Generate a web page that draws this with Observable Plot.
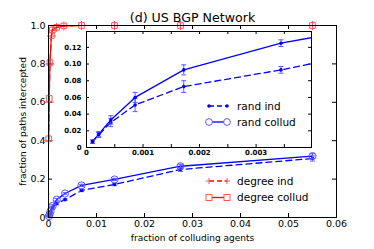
<!DOCTYPE html>
<html><head><meta charset="utf-8">
<script src="https://cdn.jsdelivr.net/npm/d3@7"></script>
<script src="https://cdn.jsdelivr.net/npm/@observablehq/plot@0.6"></script>
<style>
body{margin:0;background:#fff;}
#wrap{position:relative;width:374px;height:249px;overflow:hidden;}
#wrap svg{position:absolute;}
</style></head><body><div id="wrap"></div>
<script>
// ---- data ----
const randX = [0.000107, 0.000215, 0.00043, 0.00086, 0.00172, 0.00344, 0.00688, 0.01375, 0.0275, 0.055];
const randInd = [0.007, 0.015, 0.030, 0.051, 0.073, 0.093, 0.141, 0.172, 0.250, 0.307];
const randIndErr = [0.002, 0.003, 0.005, 0.008, 0.007, 0.004, 0.006, 0.006, 0.010, 0.013];
const randCollud = [0.007, 0.016, 0.033, 0.060, 0.093, 0.125, 0.167, 0.198, 0.267, 0.320];
const randColludErr = [0.002, 0.003, 0.005, 0.006, 0.006, 0.004, 0.006, 0.006, 0.010, 0.012];
const degX = [0.00005, 0.00015, 0.0003, 0.0006, 0.0008, 0.0017, 0.0032, 0.00688, 0.01375, 0.0275, 0.055];
const degInd = [0.40, 0.60, 0.80, 0.945, 0.975, 0.99, 0.997, 1, 1, 1, 1];
const degCollud = [0.41, 0.62, 0.807, 0.948, 0.977, 0.99, 0.998, 1, 1, 1, 1];
const mainXTicks = [0, 0.01, 0.02, 0.03, 0.04, 0.05, 0.06];
const mainYTicks = [0, 0.2, 0.4, 0.6, 0.8, 1.0];
const insetXTicks = [0, 0.0005, 0.001, 0.0015, 0.002, 0.0025, 0.003, 0.0035];
const insetXLabels = [0, 0.001, 0.002, 0.003];
const insetYTicks = [0, 0.02, 0.04, 0.06, 0.08, 0.10, 0.12];
const titleText = "(d) US BGP Network";
const xLabel = "fraction of colluding agents";
const yLabel = "fraction of paths intercepted";
const legendRand = ["rand ind", "rand collud"];
const legendDeg = ["degree ind", "degree collud"];

const rand = randX.map((x, i) => ({x, ind: randInd[i], indErr: randIndErr[i], col: randCollud[i], colErr: randColludErr[i]}));
const deg = degX.map((x, i) => ({x, ind: degInd[i], col: degCollud[i]}));

const BLUE = "#0000ff", LBLUE = "#5a5aff", RED = "#ff0000", LRED = "#ff5555";
const cap = {draw(ctx, size) { const w = Math.sqrt(size) / 2; ctx.moveTo(-w, 0); ctx.lineTo(w, 0); }};
const FONT = "DejaVu Sans";

// ---- main plot ----
const W = 374, H = 249, mL = 48, mR = 38, mT = 25, mB = 32;
const fw = W - mL - mR, fh = H - mT - mB;
const fmtMainX = d => d === 0 ? "0" : d.toFixed(2);
const fmtMainY = d => d === 0 ? "0" : d.toFixed(1);

function errMarks(data, key, ekey, color, clip) {
  return [
    Plot.ruleX(data, {x: "x", y1: d => d[key] - d[ekey], y2: d => d[key] + d[ekey], stroke: color, strokeWidth: 1, clip}),
    Plot.dot(data, {x: "x", y: d => d[key] - d[ekey], symbol: cap, r: 2.8, stroke: color, strokeWidth: 1, clip}),
    Plot.dot(data, {x: "x", y: d => d[key] + d[ekey], symbol: cap, r: 2.8, stroke: color, strokeWidth: 1, clip})
  ];
}

const main = Plot.plot({
  width: W, height: H, marginLeft: mL, marginRight: mR, marginTop: mT, marginBottom: mB,
  x: {domain: [0, 0.06], label: null},
  y: {domain: [0, 1], label: null},
  style: {fontFamily: FONT, fontSize: "9.5px", background: "white", color: "#000"},
  marks: [
    Plot.axisX(mainXTicks, {tickSize: 0, tickPadding: 3, tickFormat: fmtMainX, fontSize: 9.5}),
    Plot.axisY(mainYTicks, {tickSize: 0, tickPadding: 3, tickFormat: fmtMainY, fontSize: 9.5}),
    Plot.tickX(mainXTicks, {x: d => d, insetTop: fh - 4, stroke: "#000"}),
    Plot.tickX(mainXTicks, {x: d => d, insetBottom: fh - 4, stroke: "#000"}),
    Plot.tickY(mainYTicks, {y: d => d, insetRight: fw - 4, stroke: "#000"}),
    Plot.tickY(mainYTicks, {y: d => d, insetLeft: fw - 4, stroke: "#000"}),
    Plot.line(rand, {x: "x", y: "ind", stroke: BLUE, strokeWidth: 1.3, strokeDasharray: "6,4"}),
    ...errMarks(rand, "ind", "indErr", LBLUE, false),
    Plot.dot(rand, {x: "x", y: "ind", r: 1.8, fill: BLUE}),
    Plot.line(rand, {x: "x", y: "col", stroke: BLUE, strokeWidth: 1.3}),
    ...errMarks(rand, "col", "colErr", LBLUE, false),
    Plot.dot(rand, {x: "x", y: "col", r: 3.6, stroke: LBLUE, fill: "none", strokeWidth: 1}),
    Plot.line(deg, {x: "x", y: "ind", stroke: RED, strokeWidth: 1.2, strokeDasharray: "6,4"}),
    Plot.dot(deg, {x: "x", y: "ind", symbol: "plus", r: 3, stroke: LRED, strokeWidth: 1}),
    Plot.line(deg, {x: "x", y: "col", stroke: RED, strokeWidth: 1.2}),
    Plot.dot(deg, {x: "x", y: "col", symbol: "square", r: 3.2, stroke: LRED, fill: "none", strokeWidth: 1}),
    Plot.frame({stroke: "#000", strokeWidth: 1}),
    Plot.text([titleText], {frameAnchor: "top", lineAnchor: "middle", dy: -8, fontSize: 12.6}),
    Plot.text([xLabel], {frameAnchor: "bottom", lineAnchor: "middle", dy: 21, fontSize: 9}),
    Plot.text([yLabel], {frameAnchor: "left", textAnchor: "middle", lineAnchor: "middle", dx: -25, rotate: -90, fontSize: 9})
  ]
});
main.style.left = "0px"; main.style.top = "0px";
document.getElementById("wrap").appendChild(main);

// ---- inset ----
const iL = 86, iR = 311, iT = 31, iB = 147;
const imL = 30, imR = 2, imT = 2, imB = 14;
const ifw = iR - iL, ifh = iB - iT;
const inset = Plot.plot({
  width: ifw + imL + imR, height: ifh + imT + imB,
  marginLeft: imL, marginRight: imR, marginTop: imT, marginBottom: imB,
  x: {domain: [0, 0.00398], label: null},
  y: {domain: [0, 0.139], label: null},
  style: {fontFamily: FONT, fontSize: "7px", background: "transparent", color: "#000"},
  marks: [
    Plot.frame({fill: "white"}),
    Plot.axisX(insetXLabels, {tickSize: 0, tickPadding: 3, tickFormat: d => d === 0 ? "0" : d.toFixed(3), fontSize: 7, fontWeight: "bold"}),
    Plot.axisY(insetYTicks, {tickSize: 0, tickPadding: 5, tickFormat: d => d === 0 ? "0" : d.toFixed(2), fontSize: 7, fontWeight: "bold"}),
    Plot.tickX(insetXTicks, {x: d => d, insetTop: ifh - 3, stroke: "#000"}),
    Plot.tickX(insetXTicks, {x: d => d, insetBottom: ifh - 3, stroke: "#000"}),
    Plot.tickY(insetYTicks, {y: d => d, insetRight: ifw - 3, stroke: "#000"}),
    Plot.tickY(insetYTicks, {y: d => d, insetLeft: ifw - 3, stroke: "#000"}),
    Plot.line(rand, {x: "x", y: "ind", stroke: BLUE, strokeWidth: 1.3, strokeDasharray: "6,4", clip: true}),
    ...errMarks(rand, "ind", "indErr", LBLUE, true),
    Plot.dot(rand, {x: "x", y: "ind", r: 1.8, fill: BLUE, clip: true}),
    Plot.line(rand, {x: "x", y: "col", stroke: BLUE, strokeWidth: 1.3, clip: true}),
    ...errMarks(rand, "col", "colErr", LBLUE, true),
    Plot.dot(rand, {x: "x", y: "col", r: 1.8, fill: BLUE, clip: true}),
    Plot.frame({stroke: "#000", strokeWidth: 1})
  ]
});
inset.style.left = (iL - imL) + "px"; inset.style.top = (iT - imT) + "px";
document.getElementById("wrap").appendChild(inset);

// ---- legends (overlay) ----
const ov = d3.select("#wrap").append("svg").attr("width", W).attr("height", H).style("left", "0px").style("top", "0px")
  .attr("font-family", FONT);
function legendRow(y, label, color, markerColor, dashed, marker) {
  const g = ov.append("g");
  g.append("line").attr("x1", 209).attr("x2", 227).attr("y1", y).attr("y2", y)
    .attr("stroke", color).attr("stroke-width", 1.3).attr("stroke-dasharray", dashed ? "5,3" : null);
  for (const mx of [209, 227]) {
    if (marker === "dot") g.append("circle").attr("cx", mx).attr("cy", y).attr("r", 1.8).attr("fill", color);
    if (marker === "circle") g.append("circle").attr("cx", mx).attr("cy", y).attr("r", 3.4).attr("fill", "white").attr("stroke", markerColor);
    if (marker === "plus") g.append("path").attr("d", `M${mx-3},${y}H${mx+3}M${mx},${y-3}V${y+3}`).attr("stroke", markerColor);
    if (marker === "square") g.append("rect").attr("x", mx - 3).attr("y", y - 3).attr("width", 6).attr("height", 6).attr("fill", "white").attr("stroke", markerColor);
  }
  g.append("text").attr("x", 237).attr("y", y).attr("dy", "0.35em").attr("font-size", 10.5).text(label);
}
legendRow(106, legendRand[0], BLUE, BLUE, true, "dot");
legendRow(122, legendRand[1], BLUE, LBLUE, false, "circle");
legendRow(181, legendDeg[0], RED, LRED, true, "plus");
legendRow(197.5, legendDeg[1], RED, LRED, false, "square");
</script></body></html>
